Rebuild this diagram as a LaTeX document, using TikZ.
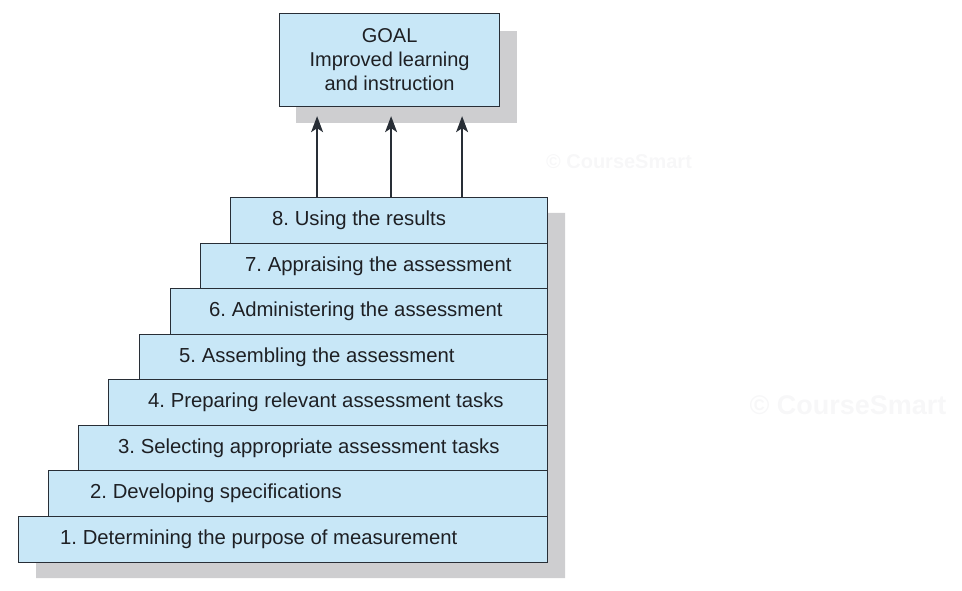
\documentclass[tikz,border=0pt]{standalone}
\usepackage{fontspec}
\setmainfont{Liberation Sans}
\usetikzlibrary{arrows.meta}
\frenchspacing
\definecolor{boxfill}{RGB}{200,231,247}
\definecolor{boxline}{RGB}{40,46,54}
\definecolor{shadowgray}{RGB}{206,206,208}
\definecolor{txt}{RGB}{30,32,36}
\definecolor{wmark}{RGB}{247,247,248}
\tikzset{
  stepbox/.style={draw=boxline, fill=boxfill, line width=1.2pt, anchor=north west,
    minimum height=45.5pt, inner sep=0pt},
  steptext/.style={anchor=west, text=txt, font=\fontsize{20.3}{24}\selectfont, inner sep=0pt},
  goalbox/.style={draw=boxline, fill=boxfill, line width=1.2pt, anchor=north west,
    minimum width=220pt, minimum height=93pt, inner sep=0pt, align=center, text=txt,
    font=\fontsize{20}{24}\selectfont},
  uparrow/.style={draw=boxline, line width=1.3pt, shorten >=9pt,
    -{Stealth[length=16pt,width=12pt,inset=4pt]}},
  shade/.style={fill=shadowgray, draw=none},
  watermark/.style={text=wmark, font=\bfseries\fontsize{#1}{#1}\selectfont, inner sep=0pt}
}
\begin{document}
\begin{tikzpicture}[x=1pt,y=-1pt]
\useasboundingbox (0,0) rectangle (962,591);
% watermarks
\node[watermark=20] (wm1) at (619,162) {© CourseSmart};
\node[watermark=27] (wm2) at (848,405) {© CourseSmart};
% shadows
\fill[shade] (296,31) rectangle (517,123);
\fill[shade] (248,213) -- (565,213) -- (565,578) -- (36,578) -- (36,531)
  -- (65,531) -- (65,485) -- (96,485) -- (96,440) -- (126,440) -- (126,394)
  -- (158,394) -- (158,349) -- (188,349) -- (188,303) -- (218,303) -- (218,258)
  -- (248,258) -- cycle;
% goal
\node[goalbox] (goal) at (279,13) {GOAL\\Improved learning\\and instruction};
% steps (bottom to top)
\node[stepbox, minimum width=529pt, minimum height=46.5pt] (s1) at (18,515.5) {};
\node[steptext] (t1) at ([xshift=42pt]s1.west) {1. Determining the purpose of measurement};
\node[stepbox, minimum width=499pt] (s2) at (48,470) {};
\node[steptext] (t2) at ([xshift=42pt]s2.west) {2. Developing specifications};
\node[stepbox, minimum width=469pt] (s3) at (78,424.5) {};
\node[steptext] (t3) at ([xshift=40pt]s3.west) {3. Selecting appropriate assessment tasks};
\node[stepbox, minimum width=439pt] (s4) at (108,379) {};
\node[steptext] (t4) at ([xshift=40pt]s4.west) {4. Preparing relevant assessment tasks};
\node[stepbox, minimum width=408pt] (s5) at (139,333.5) {};
\node[steptext] (t5) at ([xshift=40pt]s5.west) {5. Assembling the assessment};
\node[stepbox, minimum width=377pt] (s6) at (170,288) {};
\node[steptext] (t6) at ([xshift=39pt]s6.west) {6. Administering the assessment};
\node[stepbox, minimum width=347pt] (s7) at (200,242.5) {};
\node[steptext] (t7) at ([xshift=45pt]s7.west) {7. Appraising the assessment};
\node[stepbox, minimum width=317pt] (s8) at (230,197) {};
\node[steptext] (t8) at ([xshift=42pt]s8.west) {8. Using the results};
% arrows
\draw[uparrow] ([xshift=-72pt]s8.north) -- ([xshift=-72pt]s8.north |- goal.south);
\draw[uparrow] ([xshift=2pt]s8.north) -- ([xshift=2pt]s8.north |- goal.south);
\draw[uparrow] ([xshift=73pt]s8.north) -- ([xshift=73pt]s8.north |- goal.south);
\end{tikzpicture}
\end{document}
